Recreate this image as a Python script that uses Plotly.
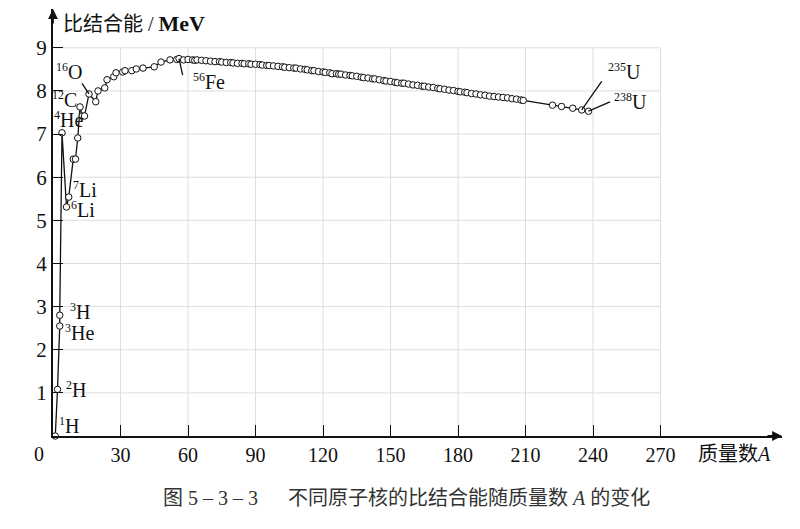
import plotly.graph_objects as go

# ---------------- data ----------------
mass_number = [1, 2, 3, 3, 4, 6, 7, 9, 10, 11, 12, 13, 14, 16, 19, 20, 23, 24, 27, 28,
               31, 32, 35, 37, 40, 45, 48, 52, 55, 56, 58,
               60, 62, 63, 64, 66, 68, 70, 72, 74, 75, 77, 79, 80, 82, 84, 85, 87, 88, 90,
               92, 93, 95, 96, 98, 100, 102, 103, 105, 107, 108, 110, 112, 113, 115, 116,
               118, 120, 121, 123, 124, 126, 127, 128, 130, 132, 133, 135, 137, 138, 140,
               142, 143, 145, 147, 148, 150, 152, 153, 155, 156, 158, 160, 162, 164, 165,
               167, 169, 171, 172, 174, 176, 178, 180, 181, 183, 184, 186, 188, 190, 192,
               194, 196, 198, 200, 202, 204, 206, 208, 209, 222, 226, 231, 235, 238]
binding_energy = [0.00, 1.08, 2.55, 2.80, 7.03, 5.31, 5.54, 6.42, 6.42, 6.91, 7.63, 7.42, 7.42, 7.93, 7.75, 8.00, 8.07, 8.26, 8.33, 8.42,
                  8.44, 8.47, 8.47, 8.51, 8.53, 8.56, 8.67, 8.72, 8.73, 8.75, 8.72,
                  8.73, 8.72, 8.71, 8.72, 8.71, 8.70, 8.69, 8.68, 8.68, 8.67, 8.66, 8.66, 8.65, 8.64, 8.64, 8.63, 8.63, 8.62, 8.62,
                  8.61, 8.60, 8.59, 8.59, 8.58, 8.57, 8.56, 8.55, 8.54, 8.53, 8.53, 8.51, 8.50, 8.49, 8.47, 8.47,
                  8.45, 8.44, 8.43, 8.42, 8.40, 8.40, 8.39, 8.39, 8.37, 8.36, 8.35, 8.34, 8.32, 8.31, 8.30,
                  8.28, 8.28, 8.26, 8.24, 8.23, 8.22, 8.20, 8.19, 8.18, 8.18, 8.16, 8.14, 8.13, 8.11, 8.11,
                  8.09, 8.08, 8.06, 8.05, 8.04, 8.02, 8.01, 7.99, 7.98, 7.97, 7.96, 7.94, 7.93, 7.91, 7.90,
                  7.88, 7.87, 7.86, 7.85, 7.84, 7.82, 7.81, 7.79, 7.78, 7.67, 7.64, 7.60, 7.56, 7.53]

x_ticks = [30, 60, 90, 120, 150, 180, 210, 240, 270]
y_ticks = [1, 2, 3, 4, 5, 6, 7, 8, 9]

y_title = "比结合能 / <b><span style='font-size:22px'>MeV</span></b>"
x_title = "质量数<i>A</i>"
origin_label = "0"
caption = "图 5 – 3 – 3      不同原子核的比结合能随质量数 <i>A</i> 的变化"

# nuclide labels: (A, binding energy, isotope number, symbol)
nuclides = [
    (1, 0.00, "1", "H"),
    (2, 1.08, "2", "H"),
    (3, 2.55, "3", "He"),
    (3, 2.80, "3", "H"),
    (4, 7.03, "4", "He"),
    (6, 5.31, "6", "Li"),
    (7, 5.54, "7", "Li"),
    (12, 7.63, "12", "C"),
    (16, 7.93, "16", "O"),
    (56, 8.75, "56", "Fe"),
    (235, 7.56, "235", "U"),
    (238, 7.53, "238", "U"),
]
# label placement in pixels: xshift, yshift (up), xanchor, leader line tail (dx, dy-down) or None
placements = [
    (2, 11, "left", None),
    (6, 0, "left", None),
    (3, -6, "left", None),
    (8, 4, "left", None),
    (-10, 13, "left", None),
    (2, -3, "left", None),
    (2, 8, "left", None),
    (-1, 7, "right", None),
    (-20, 22, "center", (-8, -12)),
    (12, -23, "left", (4, 18)),
    (24, 38, "left", (21, -30)),
    (23, 10, "left", (23, -10)),
]

X_MAX = 324
Y_MAX = 9.9
SERIF = "Liberation Serif, Noto Sans CJK SC, serif"
MIX = "Liberation Serif, Noto Sans CJK SC"
INK = "#111"

fig = go.Figure()

fig.add_trace(go.Scatter(
    x=mass_number, y=binding_energy, mode="lines+markers",
    line=dict(color=INK, width=1.3),
    marker=dict(symbol="circle", size=6.5, color="white", line=dict(color=INK, width=1)),
    cliponaxis=False, showlegend=False, hoverinfo="skip",
))

shapes = []
for xv in x_ticks:
    shapes.append(dict(type="line", xref="x", yref="y", x0=xv, x1=xv, y0=0, y1=max(y_ticks),
                       line=dict(color="#dedede", width=1), layer="below"))
for yv in y_ticks:
    shapes.append(dict(type="line", xref="x", yref="y", x0=0, x1=max(x_ticks), y0=yv, y1=yv,
                       line=dict(color="#dedede", width=1), layer="below"))

annotations = []
for (a, be, iso, sym), (dx, dy, xa, leader) in zip(nuclides, placements):
    txt = "<sup><span style='font-size:12px'>%s</span></sup>%s" % (iso, sym)
    annotations.append(dict(x=a, y=be, xref="x", yref="y", text=txt, showarrow=False,
                            xshift=dx, yshift=dy, xanchor=xa, yanchor="middle",
                            font=dict(family=SERIF, size=20, color=INK)))
    if leader is not None:
        annotations.append(dict(x=a, y=be, xref="x", yref="y", text="", showarrow=True,
                                arrowhead=0, arrowwidth=1.3, arrowcolor=INK,
                                ax=leader[0], ay=leader[1]))

# axis arrows
annotations.append(dict(x=X_MAX, y=0, xref="x", yref="y", ax=-16, ay=0, text="",
                        showarrow=True, arrowhead=2, arrowsize=1.1, arrowwidth=1.8, arrowcolor=INK))
annotations.append(dict(x=0, y=Y_MAX, xref="x", yref="y", ax=0, ay=16, text="",
                        showarrow=True, arrowhead=2, arrowsize=1.1, arrowwidth=1.8, arrowcolor=INK))

# titles / caption
annotations.append(dict(x=0, y=Y_MAX, xref="x", yref="y", xshift=8, yshift=-14, text=y_title,
                        showarrow=False, xanchor="left", yanchor="middle",
                        font=dict(family=MIX, size=20, color=INK)))
annotations.append(dict(x=X_MAX, y=0, xref="x", yref="y", xshift=-9, yshift=-18, text=x_title,
                        showarrow=False, xanchor="right", yanchor="middle",
                        font=dict(family=MIX, size=20, color=INK)))
annotations.append(dict(x=0, y=0, xref="x", yref="y", xshift=-14, yshift=-18, text=origin_label,
                        showarrow=False, xanchor="center", yanchor="middle",
                        font=dict(family=SERIF, size=20, color=INK)))
annotations.append(dict(x=0.5, y=0, xref="paper", yref="paper", yshift=-62, text=caption,
                        showarrow=False, xanchor="center", yanchor="middle", xshift=-11,
                        font=dict(family=MIX, size=20, color="#333")))

fig.update_layout(
    width=800, height=529,
    margin=dict(l=53, r=18, t=9, b=93),
    paper_bgcolor="white", plot_bgcolor="white",
    shapes=shapes, annotations=annotations,
    xaxis=dict(range=[0, X_MAX], tickvals=x_ticks, ticktext=[str(v) for v in x_ticks],
               ticks="inside", ticklen=11, tickwidth=1.3, tickcolor=INK,
               showline=True, linewidth=2, linecolor=INK, showgrid=False, zeroline=False,
               tickfont=dict(family=SERIF, size=20, color=INK), fixedrange=True),
    yaxis=dict(range=[0, Y_MAX], tickvals=y_ticks, ticktext=[str(v) for v in y_ticks],
               ticks="inside", ticklen=10, tickwidth=1.3, tickcolor=INK,
               showline=True, linewidth=2, linecolor=INK, showgrid=False, zeroline=False,
               tickfont=dict(family=SERIF, size=21, color=INK), fixedrange=True),
)

fig.write_html("out.html")
